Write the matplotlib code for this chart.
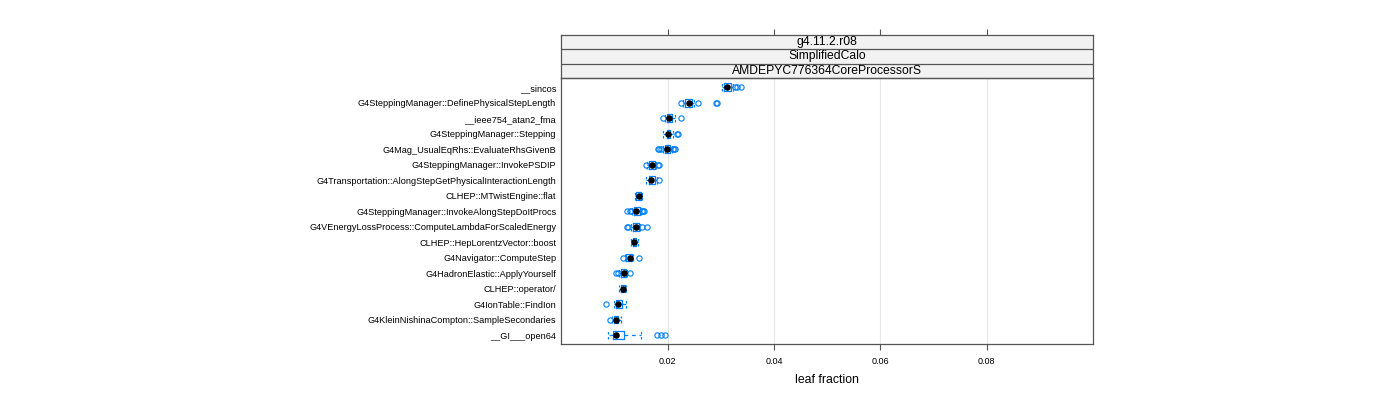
import matplotlib
matplotlib.use('Agg')
import matplotlib.pyplot as plt
import numpy as np

plt.rcParams['font.family'] = ['Liberation Sans', 'DejaVu Sans']

# ---- data (top to bottom) ----
functions = [
    "__sincos",
    "G4SteppingManager::DefinePhysicalStepLength",
    "__ieee754_atan2_fma",
    "G4SteppingManager::Stepping",
    "G4Mag_UsualEqRhs::EvaluateRhsGivenB",
    "G4SteppingManager::InvokePSDIP",
    "G4Transportation::AlongStepGetPhysicalInteractionLength",
    "CLHEP::MTwistEngine::flat",
    "G4SteppingManager::InvokeAlongStepDoItProcs",
    "G4VEnergyLossProcess::ComputeLambdaForScaledEnergy",
    "CLHEP::HepLorentzVector::boost",
    "G4Navigator::ComputeStep",
    "G4HadronElastic::ApplyYourself",
    "CLHEP::operator/",
    "G4IonTable::FindIon",
    "G4KleinNishinaCompton::SampleSecondaries",
    "__GI___open64",
]
medians = [0.0312, 0.0239, 0.0203, 0.0201, 0.0199, 0.0170, 0.0169, 0.0145, 0.0141,
           0.0140, 0.0137, 0.0128, 0.0117, 0.0115, 0.0107, 0.0103, 0.0103]
q1 = [0.0305, 0.0233, 0.0199, 0.0198, 0.0194, 0.0164, 0.0164, 0.0141, 0.0137,
      0.0135, 0.0134, 0.0122, 0.0111, 0.0111, 0.0102, 0.0098, 0.0096]
q3 = [0.0318, 0.0245, 0.0207, 0.0205, 0.0205, 0.0175, 0.0175, 0.0149, 0.0147,
      0.0145, 0.0141, 0.0132, 0.0122, 0.0120, 0.0113, 0.0107, 0.0118]
whislo = [0.0301, 0.0228, 0.0194, 0.0190, 0.0190, 0.0160, 0.0158, 0.0139, 0.0132,
          0.0130, 0.0130, 0.0119, 0.0109, 0.0109, 0.0098, 0.0095, 0.0087]
whishi = [0.0322, 0.0250, 0.0214, 0.0209, 0.0207, 0.0178, 0.0179, 0.0152, 0.0150,
          0.0148, 0.0143, 0.0135, 0.0124, 0.0122, 0.0122, 0.0111, 0.0150]
outliers = [
    [0.0326, 0.0331, 0.0337],
    [0.0224, 0.0256, 0.0290, 0.0293],
    [0.0190, 0.0224],
    [0.0218, 0.0220],
    [0.0181, 0.0184, 0.0188, 0.0209, 0.0211, 0.0213],
    [0.0158, 0.0181, 0.0184],
    [0.0184],
    [],
    [0.0124, 0.0128, 0.0130, 0.0152, 0.0154, 0.0156],
    [0.0124, 0.0126, 0.0152, 0.0160],
    [],
    [0.0115, 0.0145],
    [0.0103, 0.0107, 0.0128],
    [],
    [0.0083],
    [0.0092],
    [0.0180, 0.0188, 0.0195],
]
xticks = [0.02, 0.04, 0.06, 0.08]
xtick_labels = ["0.02", "0.04", "0.06", "0.08"]
strip_labels = ["g4.11.2.r08", "SimplifiedCalo", "AMDEPYC776364CoreProcessorS"]
xlabel = "leaf fraction"

# ---- styling ----
BLUE = '#0080ff'
FRAME = '#555555'
W, H = 1400, 400
fig = plt.figure(figsize=(W / 100, H / 100), dpi=100)

left_px, right_px = 561, 1093
top_strip_px, top_data_px, bottom_px = 35, 78, 344.3
ax = fig.add_axes([left_px / W, 1 - bottom_px / H, (right_px - left_px) / W,
                   (bottom_px - top_data_px) / H])
axs = fig.add_axes([left_px / W, 1 - top_data_px / H, (right_px - left_px) / W,
                    (top_data_px - top_strip_px) / H])

n = len(functions)
positions = np.arange(n, 0, -1)
stats = []
for i in range(n):
    stats.append(dict(med=medians[i], q1=q1[i], q3=q3[i], whislo=whislo[i],
                      whishi=whishi[i], fliers=outliers[i], mean=medians[i],
                      label=functions[i]))

ax.bxp(stats, positions=positions, widths=0.5, orientation='horizontal',
       showmeans=True, capwidths=0.5,
       boxprops=dict(color=BLUE, linewidth=0.9),
       whiskerprops=dict(color=BLUE, linewidth=0.9, linestyle=(0, (3, 3))),
       capprops=dict(color=BLUE, linewidth=0.9, linestyle=(0, (2, 2))),
       medianprops=dict(linewidth=0),
       meanprops=dict(marker='o', markerfacecolor='black', markeredgecolor='black',
                      markersize=3.7),
       flierprops=dict(marker='o', markerfacecolor='none', markeredgecolor=BLUE,
                       markersize=3.8, markeredgewidth=0.8))

xlim = (-0.0001, 0.1)
ax.set_xlim(*xlim)
ax.set_ylim(0.4, n + 0.6)
ax.set_xticks(xticks)
ax.set_xticklabels(xtick_labels)
ax.set_yticks(positions)
ax.set_yticklabels(functions)
for x in xticks:
    ax.axvline(x, color='#e8e8e8', linewidth=0.9, zorder=0)
ax.tick_params(axis='x', direction='out', length=4.5, width=0.8, color=FRAME,
               labelsize=6.5, pad=5)
ax.tick_params(axis='y', length=0, labelsize=6.6, pad=3.5)
for sp in ax.spines.values():
    sp.set_color(FRAME)
    sp.set_linewidth(0.9)
ax.set_xlabel(xlabel, fontsize=8.8, labelpad=5.5)

# strips
axs.set_xlim(*xlim)
axs.set_ylim(0, 3)
for i, lab in enumerate(strip_labels):
    y0 = 2 - i
    axs.axhspan(y0, y0 + 1, facecolor='#f2f2f2', edgecolor='none')
    axs.axhline(y0, color=FRAME, linewidth=0.9)
    axs.text(0.5, y0 + 0.5, lab, transform=axs.get_yaxis_transform(),
             ha='center', va='center', fontsize=8.75)
axs.set_xticks(xticks)
axs.set_yticks([])
axs.tick_params(axis='x', top=True, bottom=False, labeltop=False, labelbottom=False,
                direction='out', length=4.5, width=0.8, color=FRAME)
for sp in axs.spines.values():
    sp.set_color(FRAME)
    sp.set_linewidth(0.9)

fig.savefig('out.png', dpi=100)
